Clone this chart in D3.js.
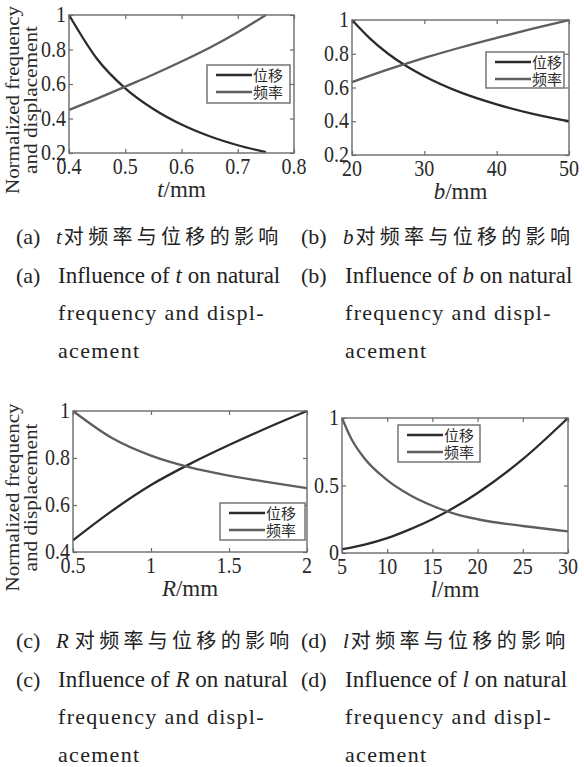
<!DOCTYPE html>
<html>
<head>
<meta charset="utf-8">
<script src="https://cdn.jsdelivr.net/npm/d3@7"></script>
<style>
  html, body { margin: 0; padding: 0; background: #fff; }
  svg { display: block; }
</style>
</head>
<body>
<svg id="fig" width="584" height="767"></svg>
<script>
// ---- data: normalized frequency / displacement versus each geometric parameter ----
const seriesNames = ["位移", "频率"];

// (a) beam thickness t (mm)
const tVals = [0.40, 0.45, 0.50, 0.55, 0.60, 0.65, 0.70, 0.75];
const tDisp = [1.00, 0.745, 0.575, 0.455, 0.365, 0.297, 0.245, 0.205];
const tFreq = [0.45, 0.515, 0.585, 0.655, 0.73, 0.81, 0.90, 1.00];
const tXTicks = [0.4, 0.5, 0.6, 0.7, 0.8];
const tYTicks = [0.2, 0.4, 0.6, 0.8, 1];

// (b) beam width b (mm)
const bVals = [20, 22.5, 25, 27.5, 30, 35, 40, 45, 50];
const bDisp = [1.00, 0.89, 0.80, 0.727, 0.667, 0.571, 0.50, 0.444, 0.40];
const bFreq = [0.632, 0.67, 0.707, 0.742, 0.775, 0.837, 0.894, 0.949, 1.00];
const bXTicks = [20, 30, 40, 50];
const bYTicks = [0.2, 0.4, 0.6, 0.8, 1];

// (c) fillet radius R (mm)
const rVals = [0.5, 0.75, 1.0, 1.25, 1.5, 1.75, 2.0];
const rDisp = [0.45, 0.575, 0.685, 0.775, 0.855, 0.93, 1.00];
const rFreq = [1.00, 0.885, 0.81, 0.76, 0.725, 0.697, 0.672];
const rXTicks = [0.5, 1, 1.5, 2];
const rYTicks = [0.4, 0.6, 0.8, 1];

// (d) beam length l (mm)
const lVals = [5, 6, 7.5, 10, 12.5, 15, 17.5, 20, 25, 30];
const lDisp = [0.028, 0.04, 0.062, 0.11, 0.175, 0.25, 0.34, 0.445, 0.695, 1.00];
const lFreq = [1.00, 0.85, 0.70, 0.54, 0.43, 0.35, 0.29, 0.25, 0.20, 0.16];
const lXTicks = [5, 10, 15, 20, 25, 30];
const lYTicks = [0, 0.5, 1];

// captions
const capCn = ["对频率与位移的影响"];
const capEn = ["Influence of ", " on natural", "frequency and displ-", "acement"];

// ---- layout ----
const svg = d3.select("#fig");
const SERIF = "Liberation Serif, Times New Roman, serif";
const CJK = "Noto Sans CJK SC, Noto Sans CJK JP, sans-serif";
const frameColor = "#6b6b6b";
const lineColors = ["#2b2b2b", "#5e5e5e"];

const panels = [
  { key: "a", sym: "t", x: tVals, disp: tDisp, freq: tFreq, xDomain: [0.4, 0.8], yDomain: [0.2, 1],
    xTicks: tXTicks, yTicks: tYTicks, box: { l: 69, r: 294, t: 15, b: 153 }, yTitle: true,
    legend: { x: 207, y: 65, w: 83, h: 38 } },
  { key: "b", sym: "b", x: bVals, disp: bDisp, freq: bFreq, xDomain: [20, 50], yDomain: [0.2, 1],
    xTicks: bXTicks, yTicks: bYTicks, box: { l: 352, r: 569, t: 20, b: 155 }, yTitle: false,
    legend: { x: 486, y: 52, w: 78, h: 36 } },
  { key: "c", sym: "R", x: rVals, disp: rDisp, freq: rFreq, xDomain: [0.5, 2], yDomain: [0.4, 1],
    xTicks: rXTicks, yTicks: rYTicks, box: { l: 73, r: 307, t: 411, b: 552 }, yTitle: true,
    legend: { x: 220, y: 503, w: 85, h: 37 } },
  { key: "d", sym: "l", x: lVals, disp: lDisp, freq: lFreq, xDomain: [5, 30], yDomain: [0, 1],
    xTicks: lXTicks, yTicks: lYTicks, box: { l: 342, r: 568, t: 418, b: 553 }, yTitle: false,
    legend: { x: 398, y: 425, w: 82, h: 37 } }
];

const fmt = v => String(+v.toFixed(3));

panels.forEach(p => {
  const { l, r, t, b } = p.box;
  const xS = d3.scaleLinear().domain(p.xDomain).range([l, r]);
  const yS = d3.scaleLinear().domain(p.yDomain).range([b, t]);
  const g = svg.append("g").attr("class", "panel-" + p.key);

  // inward ticks on all four sides
  const tickLen = 4;
  const axes = [
    [d3.axisBottom(xS), `translate(0,${b})`, p.xTicks],
    [d3.axisTop(xS), `translate(0,${t})`, p.xTicks],
    [d3.axisLeft(yS), `translate(${l},0)`, p.yTicks],
    [d3.axisRight(yS), `translate(${r},0)`, p.yTicks]
  ];
  axes.forEach(([ax, tr, vals]) => {
    const ag = g.append("g").attr("transform", tr)
      .call(ax.tickValues(vals).tickSizeInner(-tickLen).tickSizeOuter(0).tickFormat(""));
    ag.select(".domain").remove();
    ag.selectAll(".tick line").attr("stroke", frameColor).attr("stroke-width", 1.2);
  });

  // curves
  const line = d3.line().x(d => xS(d[0])).y(d => yS(d[1])).curve(d3.curveMonotoneX);
  [p.disp, p.freq].forEach((ys, i) => {
    g.append("path")
      .datum(p.x.map((xv, k) => [xv, ys[k]]))
      .attr("d", line)
      .attr("fill", "none")
      .attr("stroke", lineColors[i])
      .attr("stroke-width", 2.3)
      .attr("stroke-linejoin", "round");
  });

  // frame
  g.append("rect").attr("x", l).attr("y", t).attr("width", r - l).attr("height", b - t)
    .attr("fill", "none").attr("stroke", frameColor).attr("stroke-width", 1.4);

  // tick labels (slightly condensed serif)
  p.xTicks.forEach(v => {
    g.append("text")
      .attr("transform", `translate(${xS(v)},${b + 21}) scale(0.87,1)`)
      .attr("text-anchor", "middle")
      .attr("font-family", SERIF).attr("font-size", 23).attr("fill", "#2a2a2a")
      .text(fmt(v));
  });
  p.yTicks.forEach(v => {
    g.append("text")
      .attr("transform", `translate(${l - 3},${yS(v) + 7}) scale(0.87,1)`)
      .attr("text-anchor", "end")
      .attr("font-family", SERIF).attr("font-size", 23).attr("fill", "#2a2a2a")
      .text(fmt(v));
  });

  // x-axis title: italic symbol + "/mm"
  const xt = g.append("text")
    .attr("x", (l + r) / 2).attr("y", b + 44)
    .attr("text-anchor", "middle")
    .attr("font-family", SERIF).attr("font-size", 23).attr("fill", "#2a2a2a");
  xt.append("tspan").attr("font-style", "italic").text(p.sym);
  xt.append("tspan").text("/mm");

  // y-axis title, two stacked lines
  if (p.yTitle) {
    const cy = (t + b) / 2 + 16;
    [["Normalized frequency", 19, 188], ["and displacement", 37, 148]].forEach(([txt, bx, len]) => {
      g.append("text")
        .attr("transform", `translate(${bx},${cy}) rotate(-90) scale(1,0.85)`)
        .attr("text-anchor", "middle")
        .attr("font-family", SERIF).attr("font-size", 21).attr("fill", "#2a2a2a")
        .attr("textLength", len).attr("lengthAdjust", "spacingAndGlyphs")
        .text(txt);
    });
  }

  // legend: box, two line samples, and both labels in one text block
  const lg = p.legend;
  const rowGap = 17;
  g.append("rect").attr("x", lg.x).attr("y", lg.y).attr("width", lg.w).attr("height", lg.h)
    .attr("fill", "#fff").attr("stroke", frameColor).attr("stroke-width", 1.4);
  const lt = g.append("text")
    .attr("font-family", CJK).attr("font-size", 15).attr("fill", "#2a2a2a");
  seriesNames.forEach((name, i) => {
    const yy = lg.y + 10 + i * rowGap;
    g.append("line").attr("x1", lg.x + 9).attr("x2", lg.x + 45).attr("y1", yy).attr("y2", yy)
      .attr("stroke", lineColors[i]).attr("stroke-width", 2.3);
    lt.append("tspan").attr("x", lg.x + 46).attr("y", yy + 5.5).text(name);
  });
});

// ---- captions ----
const captions = [
  { key: "a", sym: "t", x0: 15, x1: 56, y: 244 },
  { key: "b", sym: "b", x0: 300, x1: 343, y: 244 },
  { key: "c", sym: "R", x0: 15, x1: 56, y: 648 },
  { key: "d", sym: "l", x0: 300, x1: 343, y: 648 }
];
const lead = 37.5;
captions.forEach(c => {
  const g = svg.append("g").attr("class", "caption-" + c.key);
  for (let row = 0; row < 2; row++) {
    g.append("text").attr("x", c.x0 + 1).attr("y", c.y + row * (lead + 1))
      .attr("font-family", SERIF).attr("font-size", 22).attr("fill", "#222")
      .text("(" + c.key + ")");
  }
  // Chinese title
  const cn = g.append("text").attr("x", c.x1).attr("y", c.y)
    .attr("font-family", SERIF).attr("font-size", 21).attr("fill", "#222");
  cn.append("tspan").attr("font-style", "italic").text(c.sym);
  cn.append("tspan").attr("dx", c.sym === "R" ? 6 : 2)
    .attr("font-family", CJK).attr("font-size", 20).attr("letter-spacing", 4.3)
    .text(capCn[0]);
  // English title
  const y1 = c.y + lead + 1;
  const en = g.append("text").attr("x", c.x1 + 2).attr("y", y1)
    .attr("font-family", SERIF).attr("font-size", 23).attr("fill", "#222");
  en.append("tspan").text(capEn[0]);
  en.append("tspan").attr("font-style", "italic").text(c.sym);
  en.append("tspan").text(capEn[1]);
  g.append("text").attr("x", c.x1 + 2).attr("y", y1 + lead)
    .attr("font-family", SERIF).attr("font-size", 22).attr("fill", "#222")
    .attr("letter-spacing", 1.3).text(capEn[2]);
  g.append("text").attr("x", c.x1 + 2).attr("y", y1 + 2 * lead)
    .attr("font-family", SERIF).attr("font-size", 22).attr("fill", "#222")
    .attr("letter-spacing", 1.3).text(capEn[3]);
});
</script>
</body>
</html>
